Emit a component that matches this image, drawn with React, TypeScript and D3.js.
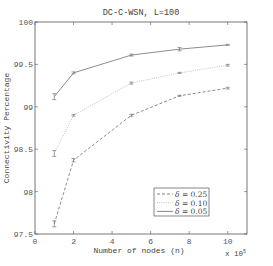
import * as d3 from 'd3';

const nodes = [1, 2, 5, 7.5, 10];
const series = [
  { label: '0.25', dash: '3,2', color: '#666', values: [97.62, 98.37, 98.9, 99.13, 99.22], errors: [0.035, 0.02, 0.012, 0.006, 0.01] },
  { label: '0.10', dash: '1,1.2', color: '#b0b0b0', values: [98.45, 98.9, 99.28, 99.4, 99.49], errors: [0.035, 0.01, 0.012, 0.006, 0.01] },
  { label: '0.05', dash: '', color: '#666', values: [99.12, 99.4, 99.61, 99.68, 99.73], errors: [0.035, 0.012, 0.012, 0.02, 0.006] },
];
const xTicks = [0, 2, 4, 6, 8, 10];
const yTicks = [97.5, 98, 98.5, 99, 99.5, 100];
const legendOrder = ['0.25', '0.10', '0.05'];

const W = 273;
const H = 266;
const margin = { top: 22, right: 26, bottom: 32, left: 35 };
const mono = "'Liberation Mono', 'DejaVu Sans Mono', monospace";

export default function App() {
  const x = d3.scaleLinear().domain([0, 11]).range([margin.left, W - margin.right]);
  const y = d3.scaleLinear().domain([97.5, 100]).range([H - margin.bottom, margin.top]);
  const line = d3.line<[number, number]>().x((d) => x(d[0])).y((d) => y(d[1]));
  const [x0, x1] = x.range();
  const [y0, y1] = y.range();
  const tk = 3;

  return (
    <div style={{ position: 'absolute', left: 0, top: 0 }}>
      <svg width={W} height={H} style={{ display: 'block', background: '#fff' }}>
        <text x={(x0 + x1) / 2} y={15} textAnchor="middle" fontFamily={mono} fontSize={8.5} fill="#444">
          DC-C-WSN, L=100
        </text>
        {/* ticks on all sides */}
        {xTicks.map((t) => (
          <g key={'x' + t}>
            <line x1={x(t)} x2={x(t)} y1={y0} y2={y0 - tk} stroke="#555" strokeWidth={0.6} />
            <line x1={x(t)} x2={x(t)} y1={y1} y2={y1 + tk} stroke="#555" strokeWidth={0.6} />
            <text x={x(t)} y={y0 + 10} textAnchor="middle" fontFamily={mono} fontSize={8} fill="#555">
              {t}
            </text>
          </g>
        ))}
        {yTicks.map((t) => (
          <g key={'y' + t}>
            <line x1={x0} x2={x0 + tk} y1={y(t)} y2={y(t)} stroke="#555" strokeWidth={0.6} />
            <line x1={x1} x2={x1 - tk} y1={y(t)} y2={y(t)} stroke="#555" strokeWidth={0.6} />
            <text x={x0 - 2} y={y(t) + 3} textAnchor="end" fontFamily={mono} fontSize={8} fill="#555">
              {t}
            </text>
          </g>
        ))}
        <rect x={x0} y={y1} width={x1 - x0} height={y0 - y1} fill="none" stroke="#555" strokeWidth={0.8} />
        {series.map((s) => (
          <g key={s.label}>
            <path
              d={line(nodes.map((n, i) => [n, s.values[i]] as [number, number])) ?? ''}
              fill="none"
              stroke={s.color}
              strokeWidth={0.75}
              strokeDasharray={s.dash}
            />
            {nodes.map((n, i) => {
              const lo = y(s.values[i] - s.errors[i]);
              const hi = y(s.values[i] + s.errors[i]);
              return (
                <g key={n} stroke="#777" strokeWidth={0.7}>
                  <line x1={x(n)} x2={x(n)} y1={lo} y2={hi} />
                  <line x1={x(n) - 2} x2={x(n) + 2} y1={lo} y2={lo} />
                  <line x1={x(n) - 2} x2={x(n) + 2} y1={hi} y2={hi} />
                </g>
              );
            })}
          </g>
        ))}
        {/* legend */}
        <rect x={154} y={188} width={55} height={28} fill="#fff" stroke="#555" strokeWidth={0.7} />
        {legendOrder.map((lab, i) => {
          const s = series.find((d) => d.label === lab)!;
          const ly = 194 + i * 8.7;
          return (
            <g key={lab}>
              <line x1={157} x2={173} y1={ly} y2={ly} stroke={s.color} strokeWidth={0.8} strokeDasharray={s.dash} />
              <text x={175} y={ly + 3} fontFamily="'DejaVu Serif', 'Liberation Serif', serif" fontSize={7.5} fill="#444">
                <tspan fontStyle="italic">δ</tspan> = {lab}
              </text>
            </g>
          );
        })}
        <text x={(x0 + x1) / 2 - 2} y={y0 + 19} textAnchor="middle" fontFamily={mono} fontSize={8} fill="#444">
          Number of nodes (n)
        </text>
        <text x={225} y={256} fontFamily={mono} fontSize={7.5} fill="#444">
          x 10<tspan dy={-3} fontSize={5}>5</tspan>
        </text>
        <text
          transform={`translate(9, ${(y0 + y1) / 2}) rotate(-90)`}
          textAnchor="middle"
          fontFamily={mono}
          fontSize={8}
          fill="#444"
        >
          Connectivity Percentage
        </text>
      </svg>
    </div>
  );
}
